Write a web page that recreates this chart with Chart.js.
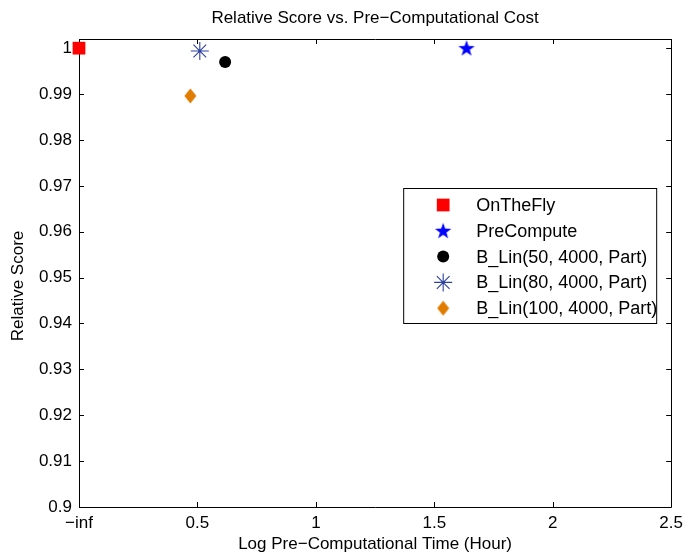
<!DOCTYPE html>
<html>
<head>
<meta charset="utf-8">
<script src="https://cdn.jsdelivr.net/npm/chart.js@4/dist/chart.umd.min.js"></script>
<style>
  html, body { margin: 0; padding: 0; background: #ffffff; }
  #wrap { width: 689px; height: 556px; }
</style>
</head>
<body>
<div id="wrap"><canvas id="c" width="689" height="556"></canvas></div>
<script>
// Series names, log pre-computation time (0 stands for -inf) and relative score
const seriesLabels = ['OnTheFly', 'PreCompute', 'B_Lin(50, 4000, Part)', 'B_Lin(80, 4000, Part)', 'B_Lin(100, 4000, Part)'];
const logTimes = [0, 1.636, 0.617, 0.51, 0.47];
const relScores = [1.0, 1.0, 0.997, 0.9994, 0.9896];
const seriesColors = ['#ff0000', '#0000ff', '#000000', '#2b3f9f', '#e07c00'];

// Axis ticks
const xTickValues = [0, 0.5, 1, 1.5, 2, 2.5];
const xTickLabels = ['\u2212inf', '0.5', '1', '1.5', '2', '2.5'];
const yMin = 0.9, yMax = 1.002, yStep = 0.01;

const FONT = "'Liberation Sans', Arial, Helvetica, sans-serif";

// Filled five-pointed star marker
function makeStar(color) {
  const cv = document.createElement('canvas');
  cv.width = 18; cv.height = 18;
  const g = cv.getContext('2d');
  g.fillStyle = color;
  g.beginPath();
  for (let i = 0; i < 10; i++) {
    const r = i % 2 === 0 ? 8.6 : 3.4;
    const a = -Math.PI / 2 + i * Math.PI / 5;
    const px = 9 + r * Math.cos(a), py = 9.6 + r * Math.sin(a);
    if (i === 0) g.moveTo(px, py); else g.lineTo(px, py);
  }
  g.closePath();
  g.fill();
  return cv;
}

// Tall diamond marker
function makeDiamond(color) {
  const cv = document.createElement('canvas');
  cv.width = 13; cv.height = 16;
  const g = cv.getContext('2d');
  g.fillStyle = color;
  g.beginPath();
  g.moveTo(6.5, 0.5); g.lineTo(12.5, 8); g.lineTo(6.5, 15.5); g.lineTo(0.5, 8);
  g.closePath();
  g.fill();
  return cv;
}

const markerStyles = [
  { pointStyle: 'rect', pointRadius: 9, pointBorderWidth: 0 },
  { pointStyle: makeStar(seriesColors[1]), pointRadius: 9, pointBorderWidth: 0 },
  { pointStyle: 'circle', pointRadius: 6, pointBorderWidth: 0 },
  { pointStyle: 'star', pointRadius: 9, pointBorderWidth: 1.1 },
  { pointStyle: makeDiamond(seriesColors[4]), pointRadius: 8, pointBorderWidth: 0 }
];

const datasets = seriesLabels.map((label, i) => Object.assign({
  label: label,
  data: [{ x: logTimes[i], y: relScores[i] }],
  backgroundColor: seriesColors[i],
  borderColor: seriesColors[i],
  pointBackgroundColor: seriesColors[i],
  pointBorderColor: seriesColors[i],
  pointHoverRadius: markerStyles[i].pointRadius,
  clip: false
}, markerStyles[i]));

// Boxed axes with inward tick marks on all four sides, plus titles
const framePlugin = {
  id: 'frame',
  beforeDatasetsDraw(chart) {
    const { ctx, chartArea: a, scales } = chart;
    ctx.save();
    ctx.strokeStyle = '#000000';
    ctx.lineWidth = 1;
    ctx.beginPath();
    ctx.rect(Math.round(a.left) + 0.5, Math.round(a.top) + 0.5,
             Math.round(a.right - a.left), Math.round(a.bottom - a.top));
    ctx.stroke();
    const tl = 5;
    ctx.beginPath();
    scales.x.ticks.forEach(t => {
      const px = Math.round(scales.x.getPixelForValue(t.value)) + 0.5;
      ctx.moveTo(px, a.bottom); ctx.lineTo(px, a.bottom - tl);
      ctx.moveTo(px, a.top); ctx.lineTo(px, a.top + tl);
    });
    scales.y.ticks.forEach(t => {
      const py = Math.round(scales.y.getPixelForValue(t.value)) + 0.5;
      ctx.moveTo(a.left, py); ctx.lineTo(a.left + tl, py);
      ctx.moveTo(a.right, py); ctx.lineTo(a.right - tl, py);
    });
    ctx.stroke();
    ctx.restore();
  },
  afterDraw(chart) {
    const { ctx, chartArea: a } = chart;
    const cx = (a.left + a.right) / 2;
    ctx.save();
    ctx.fillStyle = '#000000';
    ctx.font = '17px ' + FONT;
    ctx.textAlign = 'center';
    ctx.textBaseline = 'middle';
    ctx.fillText('Relative Score vs. Pre\u2212Computational Cost', cx, 18);
    ctx.fillText('Log Pre\u2212Computational Time (Hour)', cx, 544);
    ctx.translate(18, 286);
    ctx.rotate(-Math.PI / 2);
    ctx.fillText('Relative Score', 0, 0);
    ctx.restore();
  }
};

// Boxed legend inside the plot area, built from the datasets' labels and markers
const legendPlugin = {
  id: 'boxLegend',
  afterDraw(chart) {
    const { ctx, chartArea: a } = chart;
    const left = a.right - 268, top = 188, w = 253, h = 135;
    ctx.save();
    ctx.fillStyle = '#ffffff';
    ctx.fillRect(left, top, w, h);
    ctx.strokeStyle = '#000000';
    ctx.lineWidth = 1;
    ctx.strokeRect(left + 0.5, top + 0.5, w, h);
    ctx.font = '18px ' + FONT;
    ctx.textBaseline = 'middle';
    ctx.textAlign = 'left';
    chart.data.datasets.forEach((ds, i) => {
      const y = top + 17 + i * 25.8;
      ctx.save();
      ctx.fillStyle = ds.pointBackgroundColor;
      ctx.strokeStyle = ds.pointBorderColor;
      ctx.lineWidth = ds.pointBorderWidth || 0;
      Chart.helpers.drawPoint(ctx, {
        pointStyle: ds.pointStyle,
        radius: ds.pointRadius,
        rotation: 0,
        borderWidth: ds.pointBorderWidth
      }, left + 40, y);
      ctx.restore();
      ctx.fillStyle = '#000000';
      ctx.fillText(ds.label, left + 73, y + 1);
    });
    ctx.restore();
  }
};

new Chart(document.getElementById('c'), {
  type: 'scatter',
  data: { datasets: datasets },
  options: {
    responsive: false,
    devicePixelRatio: 1,
    animation: false,
    layout: { padding: { top: 39, right: 14, left: 0, bottom: 0 } },
    plugins: {
      legend: { display: false },
      title: { display: false },
      tooltip: { enabled: false }
    },
    scales: {
      x: {
        type: 'linear',
        min: xTickValues[0],
        max: xTickValues[xTickValues.length - 1],
        afterFit(s) { s.height = 49; },
        afterBuildTicks(s) { s.ticks = xTickValues.map(v => ({ value: v })); },
        grid: { display: false, drawTicks: false },
        border: { display: false },
        ticks: {
          autoSkip: false,
          maxRotation: 0,
          padding: 6,
          color: '#000000',
          font: { family: FONT, size: 17 },
          callback: (v) => {
            const k = xTickValues.indexOf(v);
            return k >= 0 ? xTickLabels[k] : '';
          }
        }
      },
      y: {
        type: 'linear',
        min: yMin,
        max: yMax,
        afterFit(s) { s.width = 79; },
        grid: { display: false, drawTicks: false },
        border: { display: false },
        ticks: {
          stepSize: yStep,
          includeBounds: false,
          padding: 7,
          color: '#000000',
          font: { family: FONT, size: 17 },
          callback: (v) => String(Number(v.toFixed(2)))
        }
      }
    }
  },
  plugins: [framePlugin, legendPlugin]
});
</script>
</body>
</html>
